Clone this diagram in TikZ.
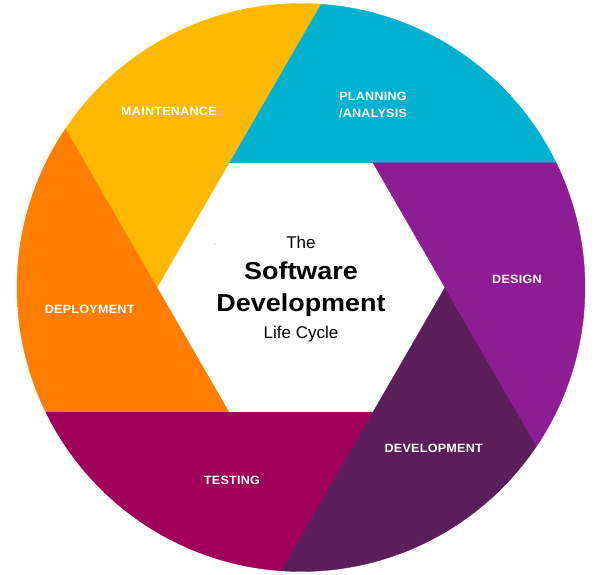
\documentclass[tikz,border=0pt]{standalone}
\usepackage{fontspec}
\setmainfont{Liberation Sans}
\newfontfamily\labelfont[FakeStretch=1.05,LetterSpace=2]{Liberation Sans}
\newfontfamily\titlefont[FakeStretch=1.1]{Liberation Sans}
\newfontfamily\plainfont{Liberation Sans}

\definecolor{plancyan}{HTML}{00B2D0}
\definecolor{maintyellow}{HTML}{FFB800}
\definecolor{deployorange}{HTML}{FF7D00}
\definecolor{testcrimson}{HTML}{A0005A}
\definecolor{devplum}{HTML}{5C1E5A}
\definecolor{designpurple}{HTML}{8D1C95}

\begin{document}
\begin{tikzpicture}[x=1pt,y=1pt,
  blade/.style={fill=#1,draw=#1,line width=0.4pt,line join=round},
  phase/.style={text=white,inner sep=0pt,anchor=base,
    font=\labelfont\bfseries\fontsize{12}{14}\selectfont},
  title/.style={text=black,inner sep=0pt,anchor=base}]
\useasboundingbox (-301,-287.5) rectangle (299,287.5);

% outer ring radius, inner hexagon radius and the angle where each
% extended hexagon edge meets the circle
\def\Ro{284}
\def\Ri{144}
\def\a{26.047}

% shutter blades: each runs along one hexagon edge, out along its
% extension, round the arc and back along the neighbouring extension
\fill[blade=plancyan]     (120:\Ri) -- (60:\Ri)  -- (\a:\Ro)     arc[start angle=\a,     end angle=\a+60,  radius=\Ro] -- cycle;
\fill[blade=maintyellow]  (180:\Ri) -- (120:\Ri) -- (\a+60:\Ro)  arc[start angle=\a+60,  end angle=\a+120, radius=\Ro] -- cycle;
\fill[blade=deployorange] (240:\Ri) -- (180:\Ri) -- (\a+120:\Ro) arc[start angle=\a+120, end angle=\a+180, radius=\Ro] -- cycle;
\fill[blade=testcrimson]  (300:\Ri) -- (240:\Ri) -- (\a+180:\Ro) arc[start angle=\a+180, end angle=\a+240, radius=\Ro] -- cycle;
\fill[blade=devplum]      (0:\Ri)   -- (300:\Ri) -- (\a+240:\Ro) arc[start angle=\a+240, end angle=\a+300, radius=\Ro] -- cycle;
\fill[blade=designpurple] (60:\Ri)  -- (0:\Ri)   -- (\a+300:\Ro) arc[start angle=\a+300, end angle=\a+360, radius=\Ro] -- cycle;

% phase labels
\node[phase] (plan1)  at (72,186.5)    {PLANNING};
\node[phase] (plan2)  at (72,169.9)    {/ANALYSIS};
\node[phase] (maint)  at (-132,171.5)  {MAINTENANCE};
\node[phase] (design) at (216,3.5)     {DESIGN};
\node[phase] (deploy) at (-211.3,-26.5){DEPLOYMENT};
\node[phase] (test)   at (-69,-197.1)  {TESTING};
\node[phase] (devel)  at (132.7,-164.8){DEVELOPMENT};

% centre title
\node[title,font=\plainfont\fontsize{17}{20}\selectfont] (the) at (0,39.4) {The};
\node[title,font=\titlefont\bfseries\fontsize{24.5}{28}\selectfont] (soft) at (0,8) {Software};
\node[title,font=\titlefont\bfseries\fontsize{24.5}{28}\selectfont] (dev) at (0,-24) {Development};
\node[title,font=\plainfont\fontsize{17}{20}\selectfont] (life) at (0,-50.6) {Life Cycle};

% small speck left of the title
\fill[gray!60] (-86,43.5) circle (0.6);
\end{tikzpicture}
\end{document}
